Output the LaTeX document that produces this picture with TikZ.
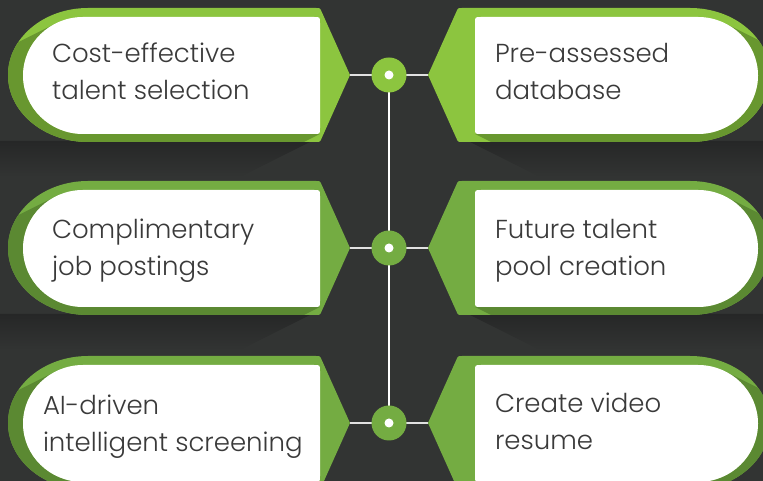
\documentclass[tikz,border=0pt]{standalone}
\usepackage{fontspec}
\setmainfont{Poppins}[UprightFont=* Light]
\usepackage{tikz}

\begin{document}
\begin{tikzpicture}[x=1pt,y=1pt,
  cardtext/.style={text=textColor,anchor=base west,align=left,inner sep=0pt,outer sep=0pt,font=\fontsize{26}{37}\selectfont},
  hubdot/.style={circle,fill=#1,minimum size=35pt,inner sep=0pt,outer sep=0pt},
  link/.style={draw=linkColor,line width=2pt},
  spine/.style={draw=white,line width=1.5pt}]
\definecolor{bgColor}{RGB}{50,52,51}
\definecolor{shadowColor}{RGB}{38,39,39}
\definecolor{greenA}{RGB}{140,197,63}
\definecolor{greenAdark}{RGB}{104,151,47}
\definecolor{greenB}{RGB}{116,172,66}
\definecolor{greenBdark}{RGB}{91,137,50}
\definecolor{textColor}{RGB}{58,58,58}
\definecolor{linkColor}{RGB}{225,225,225}
\path[use as bounding box,fill=bgColor] (0,0) rectangle (763,481);
\begin{scope}
\path[clip] (0,0) rectangle (763,481);

% row 1
\begin{scope}[yshift=406pt]
\shade[top color=shadowColor,bottom color=bgColor] (-20,-66) -- (312,-66) -- (240,-102) -- (-20,-102) -- cycle;
\shade[top color=shadowColor,bottom color=bgColor] (798,-66) -- (468,-66) -- (540,-102) -- (798,-102) -- cycle;

\fill[greenA] (88,67) -- (316,67) .. controls (320,67) .. (321.6,63.3) -- (350,0) -- (321.6,-63.3) .. controls (320,-67) .. (316,-67) -- (88,-67) arc[start angle=270,end angle=90,x radius=80,y radius=67] -- cycle;
\begin{scope}
\clip (88,67) -- (316,67) .. controls (320,67) .. (321.6,63.3) -- (350,0) -- (321.6,-63.3) .. controls (320,-67) .. (316,-67) -- (88,-67) arc[start angle=270,end angle=90,x radius=80,y radius=67] -- cycle;
\fill[greenAdark] (55.4,51.4) arc[start angle=117.4,end angle=270,x radius=60,y radius=58.5] -- (320,-59) -- (120,-159) -- (-144.6,-48.6) -- cycle;
\end{scope}
\fill[white] (83,58) -- (314,58) .. controls (320,58) .. (320,52) -- (320,-53) .. controls (320,-59) .. (314,-59) -- (83,-59) arc[start angle=270,end angle=90,x radius=60,y radius=58.5] -- cycle;

\fill[greenA] (690,67) -- (462,67) .. controls (458,67) .. (456.4,63.3) -- (428,0) -- (456.4,-63.3) .. controls (458,-67) .. (462,-67) -- (690,-67) arc[start angle=-90,end angle=90,x radius=80,y radius=67] -- cycle;
\begin{scope}
\clip (690,67) -- (462,67) .. controls (458,67) .. (456.4,63.3) -- (428,0) -- (456.4,-63.3) .. controls (458,-67) .. (462,-67) -- (690,-67) arc[start angle=-90,end angle=90,x radius=80,y radius=67] -- cycle;
\fill[greenAdark] (725.6,51.4) arc[start angle=62.6,end angle=-90,x radius=60,y radius=58.5] -- (475,-59) -- (675,-159) -- (925.6,-48.6) -- cycle;
\end{scope}
\fill[white] (698,58) -- (481,58) .. controls (475,58) .. (475,52) -- (475,-53) .. controls (475,-59) .. (481,-59) -- (698,-59) arc[start angle=-90,end angle=90,x radius=60,y radius=58.5] -- cycle;

\node[cardtext] (costText) at (52,-25) {Cost-effective\\talent selection};
\node[cardtext] (dbText) at (495,-25) {Pre-assessed\\database};
\coordinate (tipL1) at (350,0);
\coordinate (tipR1) at (428,0);
\coordinate (hub1) at (389,0);
\end{scope}

% row 2
\begin{scope}[yshift=233pt]
\shade[top color=shadowColor,bottom color=bgColor] (-20,-66) -- (312,-66) -- (240,-102) -- (-20,-102) -- cycle;
\shade[top color=shadowColor,bottom color=bgColor] (798,-66) -- (468,-66) -- (540,-102) -- (798,-102) -- cycle;

\fill[greenB] (88,67) -- (316,67) .. controls (320,67) .. (321.6,63.3) -- (350,0) -- (321.6,-63.3) .. controls (320,-67) .. (316,-67) -- (88,-67) arc[start angle=270,end angle=90,x radius=80,y radius=67] -- cycle;
\begin{scope}
\clip (88,67) -- (316,67) .. controls (320,67) .. (321.6,63.3) -- (350,0) -- (321.6,-63.3) .. controls (320,-67) .. (316,-67) -- (88,-67) arc[start angle=270,end angle=90,x radius=80,y radius=67] -- cycle;
\fill[greenBdark] (55.4,51.4) arc[start angle=117.4,end angle=270,x radius=60,y radius=58.5] -- (320,-59) -- (120,-159) -- (-144.6,-48.6) -- cycle;
\end{scope}
\fill[white] (83,58) -- (314,58) .. controls (320,58) .. (320,52) -- (320,-53) .. controls (320,-59) .. (314,-59) -- (83,-59) arc[start angle=270,end angle=90,x radius=60,y radius=58.5] -- cycle;

\fill[greenB] (690,67) -- (462,67) .. controls (458,67) .. (456.4,63.3) -- (428,0) -- (456.4,-63.3) .. controls (458,-67) .. (462,-67) -- (690,-67) arc[start angle=-90,end angle=90,x radius=80,y radius=67] -- cycle;
\begin{scope}
\clip (690,67) -- (462,67) .. controls (458,67) .. (456.4,63.3) -- (428,0) -- (456.4,-63.3) .. controls (458,-67) .. (462,-67) -- (690,-67) arc[start angle=-90,end angle=90,x radius=80,y radius=67] -- cycle;
\fill[greenBdark] (725.6,51.4) arc[start angle=62.6,end angle=-90,x radius=60,y radius=58.5] -- (475,-59) -- (675,-159) -- (925.6,-48.6) -- cycle;
\end{scope}
\fill[white] (698,58) -- (481,58) .. controls (475,58) .. (475,52) -- (475,-53) .. controls (475,-59) .. (481,-59) -- (698,-59) arc[start angle=-90,end angle=90,x radius=60,y radius=58.5] -- cycle;

\node[cardtext] (jobText) at (52,-28) {Complimentary\\job postings};
\node[cardtext] (poolText) at (495,-28) {Future talent\\pool creation};
\coordinate (tipL2) at (350,0);
\coordinate (tipR2) at (428,0);
\coordinate (hub2) at (389,0);
\end{scope}

% row 3
\begin{scope}[yshift=58pt]
\fill[greenB] (88,67) -- (316,67) .. controls (320,67) .. (321.6,63.3) -- (350,0) -- (321.6,-63.3) .. controls (320,-67) .. (316,-67) -- (88,-67) arc[start angle=270,end angle=90,x radius=80,y radius=67] -- cycle;
\begin{scope}
\clip (88,67) -- (316,67) .. controls (320,67) .. (321.6,63.3) -- (350,0) -- (321.6,-63.3) .. controls (320,-67) .. (316,-67) -- (88,-67) arc[start angle=270,end angle=90,x radius=80,y radius=67] -- cycle;
\fill[greenBdark] (55.4,51.4) arc[start angle=117.4,end angle=270,x radius=60,y radius=58.5] -- (320,-59) -- (120,-159) -- (-144.6,-48.6) -- cycle;
\end{scope}
\fill[white] (83,58) -- (314,58) .. controls (320,58) .. (320,52) -- (320,-53) .. controls (320,-59) .. (314,-59) -- (83,-59) arc[start angle=270,end angle=90,x radius=60,y radius=58.5] -- cycle;

\fill[greenB] (690,67) -- (462,67) .. controls (458,67) .. (456.4,63.3) -- (428,0) -- (456.4,-63.3) .. controls (458,-67) .. (462,-67) -- (690,-67) arc[start angle=-90,end angle=90,x radius=80,y radius=67] -- cycle;
\begin{scope}
\clip (690,67) -- (462,67) .. controls (458,67) .. (456.4,63.3) -- (428,0) -- (456.4,-63.3) .. controls (458,-67) .. (462,-67) -- (690,-67) arc[start angle=-90,end angle=90,x radius=80,y radius=67] -- cycle;
\fill[greenBdark] (725.6,51.4) arc[start angle=62.6,end angle=-90,x radius=60,y radius=58.5] -- (475,-59) -- (675,-159) -- (925.6,-48.6) -- cycle;
\end{scope}
\fill[white] (698,58) -- (481,58) .. controls (475,58) .. (475,52) -- (475,-53) .. controls (475,-59) .. (481,-59) -- (698,-59) arc[start angle=-90,end angle=90,x radius=60,y radius=58.5] -- cycle;

\node[cardtext] (aiText) at (43,-29) {AI-driven\\intelligent screening};
\node[cardtext] (videoText) at (495,-27) {Create video\\resume};
\coordinate (tipL3) at (350,0);
\coordinate (tipR3) at (428,0);
\coordinate (hub3) at (389,0);
\end{scope}

% connectors and hubs
\draw[spine] (hub1) -- (hub2) -- (hub3);
\draw[link] (tipL1) -- (hub1) -- (tipR1);
\draw[link] (tipL2) -- (hub2) -- (tipR2);
\draw[link] (tipL3) -- (hub3) -- (tipR3);
\node[hubdot=greenA] (dot1) at (hub1) {};
\node[hubdot=greenB] (dot2) at (hub2) {};
\node[hubdot=greenB] (dot3) at (hub3) {};
\fill[white] (dot1) circle[radius=4.5];
\fill[white] (dot2) circle[radius=4.5];
\fill[white] (dot3) circle[radius=4.5];
\end{scope}
\end{tikzpicture}
\end{document}
